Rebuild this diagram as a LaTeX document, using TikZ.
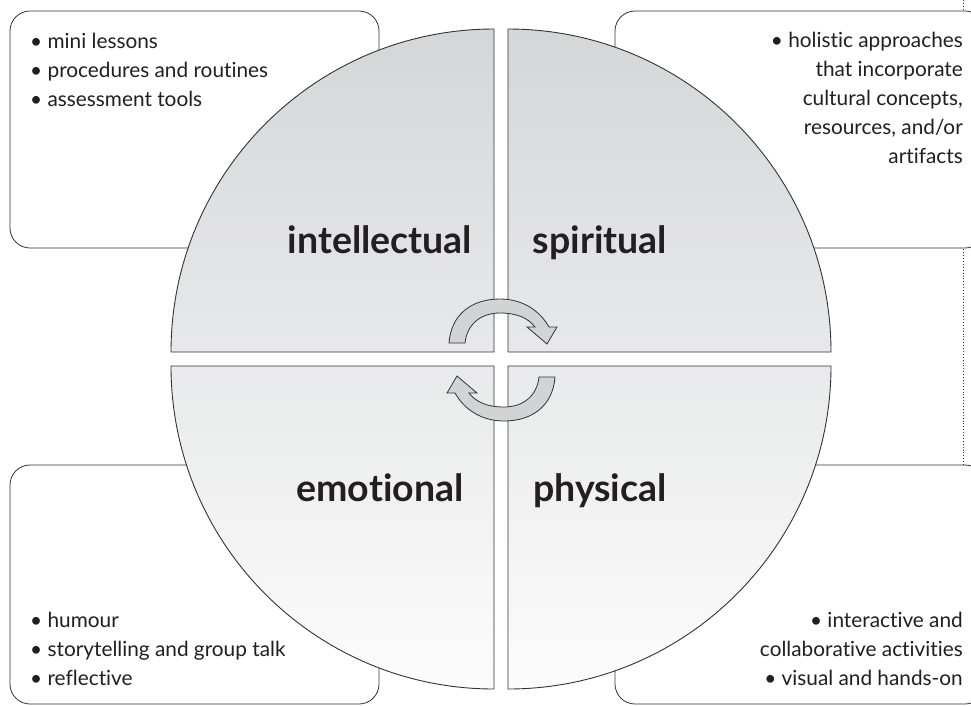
\documentclass[tikz,border=0pt]{standalone}
\usepackage{fontspec}
\setmainfont{Lato}[Ligatures={NoCommon,NoRare,NoDiscretionary}]
\definecolor{linec}{HTML}{333333}
\definecolor{txt}{HTML}{231F20}
\definecolor{arrowfill}{HTML}{D2D3D5}
\definecolor{shtop}{HTML}{D5D6D8}
\definecolor{shmid}{HTML}{E0E1E3}
\definecolor{shbot}{HTML}{FCFCFC}
\begin{document}
\begin{tikzpicture}[x=1pt,y=-1pt,
  box/.style={draw=linec, line width=0.8pt, fill=white, rounded corners=20pt},
  quad/.style={draw=linec, line width=0.9pt},
  body/.style={font=\fontsize{20.8}{24}\selectfont, text=txt, inner sep=0pt},
  big/.style={font=\bfseries\fontsize{37.5}{44}\selectfont, text=txt, inner sep=0pt},
  cyc/.style={fill=arrowfill, draw=linec, line width=0.8pt, line join=miter}]
\useasboundingbox (0,0) rectangle (971,705);
\clip (0,0) rectangle (971,705);
% dotted fold line
\coordinate (d1) at (963,0);
\coordinate (d2) at (963,465);
\draw[dotted, linec, line width=0.9pt] (d1) -- (d2);
% boxes
\draw[box] (10,11) rectangle (379,248);
\draw[box] (615,11) rectangle (985,248);
\draw[box] (10,465) rectangle (379,704);
\draw[box] (615,465) rectangle (985,704);
% shaded quadrants
\begin{scope}
  \clip (494,352) -- (171,352) arc[start angle=180, end angle=270, radius=323] -- cycle
        (508,352) -- (508,29) arc[start angle=270, end angle=360, radius=323] -- cycle
        (494,366) -- (171,366) arc[start angle=180, end angle=90, radius=323] -- cycle
        (508,366) -- (831,366) arc[start angle=0, end angle=90, radius=323] -- cycle;
  \shade[top color=shtop, middle color=shmid, bottom color=shbot] (171,29) rectangle (831,689);
\end{scope}
\draw[quad] (494,352) -- (171,352) arc[start angle=180, end angle=270, radius=323] -- cycle;
\draw[quad] (508,352) -- (508,29) arc[start angle=270, end angle=360, radius=323] -- cycle;
\draw[quad] (494,366) -- (171,366) arc[start angle=180, end angle=90, radius=323] -- cycle;
\draw[quad] (508,366) -- (831,366) arc[start angle=0, end angle=90, radius=323] -- cycle;
% cycle arrows
\draw[cyc] (449,343) .. controls (451,315) and (471,299) .. (500,299)
  .. controls (523,299) and (540,311) .. (549,327) -- (557,327) -- (547,344) -- (527,327) -- (535,327)
  .. controls (528,318) and (517,313) .. (500,313)
  .. controls (481,313) and (467,324) .. (465,343) -- cycle;
\begin{scope}[rotate around={180:(502,360)}]
\draw[cyc] (449,343) .. controls (451,315) and (471,299) .. (500,299)
  .. controls (523,299) and (540,311) .. (549,327) -- (557,327) -- (547,344) -- (527,327) -- (535,327)
  .. controls (528,318) and (517,313) .. (500,313)
  .. controls (481,313) and (467,324) .. (465,343) -- cycle;
\end{scope}
% labels
\node[big, anchor=base] (lint) at (380,253) {intellectual};
\node[big, anchor=base] (lspi) at (600,253) {spiritual};
\node[big, anchor=base] (lemo) at (380,501) {emotional};
\node[big, anchor=base] (lphy) at (600,501) {physical};
% texts
\node[body, anchor=base west] (t1) at (30,48) {• mini lessons};
\node[body, anchor=base west] (t2) at (30,77) {• procedures and routines};
\node[body, anchor=base west] (t3) at (30,106) {• assessment tools};
\node[body, anchor=base east] (s1) at (963,47) {• holistic approaches};
\node[body, anchor=base east] (s2) at (963,76) {that incorporate};
\node[body, anchor=base east] (s3) at (963,105) {cultural concepts,};
\node[body, anchor=base east] (s4) at (963,134) {resources, and/or};
\node[body, anchor=base east] (s5) at (963,163) {artifacts};
\node[body, anchor=base west] (e1) at (30,627) {• humour};
\node[body, anchor=base west] (e2) at (30,656) {• storytelling and group talk};
\node[body, anchor=base west] (e3) at (30,685) {• reflective};
\node[body, anchor=base east] (p1) at (963,627) {• interactive and};
\node[body, anchor=base east] (p2) at (963,656) {collaborative activities};
\node[body, anchor=base east] (p3) at (963,685) {• visual and hands-on};
\end{tikzpicture}
\end{document}
